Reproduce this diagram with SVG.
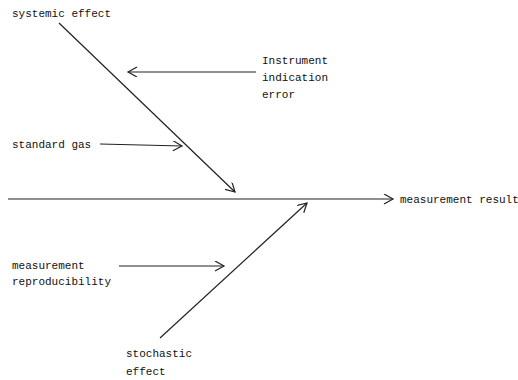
<svg xmlns="http://www.w3.org/2000/svg" width="518" height="380" viewBox="0 0 518 380">
<style>
.t{font-family:"Liberation Mono","DejaVu Sans Mono",monospace;font-size:11px;fill:#111}
.c{stroke:#222;stroke-width:1.2;fill:none}
</style>
<defs>
<marker id="a" markerWidth="12" markerHeight="12" refX="10" refY="5" orient="auto" markerUnits="userSpaceOnUse">
<path d="M1,0 L10,5 L1,10" fill="none" stroke="#222" stroke-width="1.2"/>
</marker>
</defs>
<rect width="518" height="380" fill="#fff"/>
<g id="connectors">
<line class="c" x1="8" y1="199" x2="393" y2="199" marker-end="url(#a)"/>
<line class="c" x1="59" y1="23" x2="235" y2="192" marker-end="url(#a)"/>
<line class="c" x1="160" y1="338" x2="307" y2="203" marker-end="url(#a)"/>
<line class="c" x1="256" y1="72" x2="128" y2="72" marker-end="url(#a)"/>
<line class="c" x1="100" y1="144" x2="182" y2="146" marker-end="url(#a)"/>
<line class="c" x1="119" y1="266" x2="224" y2="266" marker-end="url(#a)"/>
</g>
<g id="systemic"><text class="t" x="12" y="17">systemic effect</text></g>
<g id="instrument"><text class="t" x="262" y="64">Instrument</text><text class="t" x="262" y="81">indication</text><text class="t" x="262" y="98">error</text></g>
<g id="standard"><text class="t" x="12" y="148">standard gas</text></g>
<g id="result"><text class="t" x="400" y="203">measurement result</text></g>
<g id="reproducibility"><text class="t" x="12" y="269">measurement</text><text class="t" x="12" y="285">reproducibility</text></g>
<g id="stochastic"><text class="t" x="126" y="357">stochastic</text><text class="t" x="126" y="375">effect</text></g>
</svg>
